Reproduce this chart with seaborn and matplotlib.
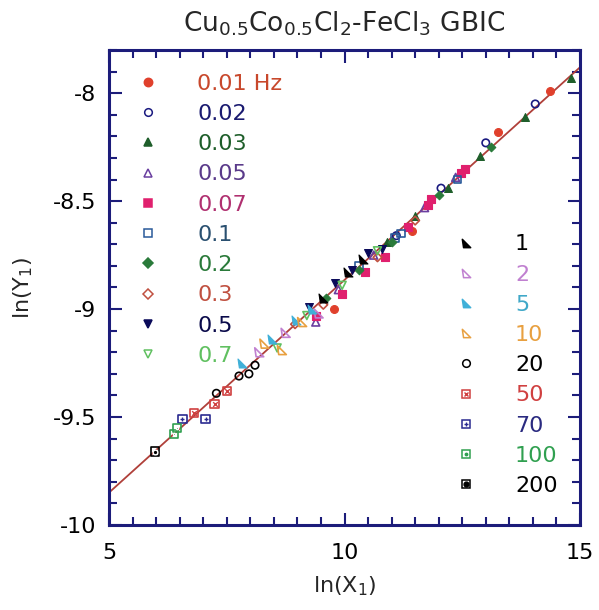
import numpy as np
import pandas as pd
import matplotlib
matplotlib.use("Agg")
import matplotlib.pyplot as plt
from matplotlib.path import Path
from matplotlib.lines import Line2D
from matplotlib.ticker import MultipleLocator, FuncFormatter
import seaborn as sns

# ---------------- data ----------------
left_labels = ['0.01 Hz', '0.02', '0.03', '0.05', '0.07', '0.1', '0.2', '0.3', '0.5', '0.7']
right_labels = ['1', '2', '5', '10', '20', '50', '70', '100', '200']

x_0_01 = [14.37, 13.25, 11.43, 9.77]
y_0_01 = [-7.99, -8.18, -8.64, -9.00]
x_0_02 = [14.05, 13.00, 12.05, 11.10]
y_0_02 = [-8.05, -8.23, -8.44, -8.66]
x_0_03 = [14.80, 13.84, 12.87, 12.20, 11.50, 10.90]
y_0_03 = [-7.93, -8.11, -8.29, -8.44, -8.57, -8.69]
x_0_05 = [12.36, 11.70, 10.62, 9.87, 9.39]
y_0_05 = [-8.39, -8.53, -8.75, -8.91, -9.06]
x_0_07 = [12.55, 12.48, 11.84, 11.78, 11.35, 10.87, 10.44, 9.95, 9.40]
y_0_07 = [-8.35, -8.37, -8.49, -8.52, -8.62, -8.76, -8.83, -8.93, -9.03]
x_0_1 = [12.40, 11.07, 11.20, 10.30]
y_0_1 = [-8.40, -8.67, -8.65, -8.80]
x_0_2 = [13.10, 12.00, 11.00, 10.30, 9.60]
y_0_2 = [-8.25, -8.47, -8.69, -8.82, -8.95]
x_0_3 = [11.50, 10.70, 9.55, 8.95]
y_0_3 = [-8.59, -8.76, -8.98, -9.07]
x_0_5 = [10.80, 10.50, 10.15, 9.80, 9.24]
y_0_5 = [-8.72, -8.74, -8.82, -8.88, -8.99]
x_0_7 = [10.70, 9.95, 9.20, 8.57]
y_0_7 = [-8.73, -8.89, -9.03, -9.18]

x_1 = [10.40, 10.08, 9.55]
y_1 = [-8.77, -8.83, -8.95]
x_2 = [9.45, 8.75, 8.19]
y_2 = [-9.02, -9.11, -9.20]
x_5 = [9.30, 8.97, 8.46, 7.83]
y_5 = [-9.00, -9.05, -9.14, -9.25]
x_10 = [9.10, 8.67, 8.30]
y_10 = [-9.06, -9.19, -9.16]
x_20 = [8.10, 7.97, 7.76, 7.28]
y_20 = [-9.26, -9.30, -9.31, -9.39]
x_50 = [7.50, 7.24, 6.81]
y_50 = [-9.38, -9.44, -9.48]
x_70 = [7.05, 6.56]
y_70 = [-9.51, -9.51]
x_100 = [6.45, 6.38]
y_100 = [-9.55, -9.58]
x_200 = [5.97]
y_200 = [-9.66]

fit_x = [5.0, 15.0]
fit_y = [-9.85, -7.88]

xs = [x_0_01, x_0_02, x_0_03, x_0_05, x_0_07, x_0_1, x_0_2, x_0_3, x_0_5, x_0_7,
      x_1, x_2, x_5, x_10, x_20, x_50, x_70, x_100, x_200]
ys = [y_0_01, y_0_02, y_0_03, y_0_05, y_0_07, y_0_1, y_0_2, y_0_3, y_0_5, y_0_7,
      y_1, y_2, y_5, y_10, y_20, y_50, y_70, y_100, y_200]
labels = left_labels + right_labels

# ---------------- styles ----------------
rtri = Path([(-1, 1), (1, -1), (-0.7, -1), (-1, 1)], closed=True)
# (marker, filled, color, inner marker, size factor, legend marker size)
styles = {
    '0.01 Hz': ('o', True, '#e0402c', None, 1.0, 6),
    '0.02': ('o', False, '#1a1a80', None, 0.9, 5.5),
    '0.03': ('^', True, '#1e5e2a', None, 1.0, 6),
    '0.05': ('^', False, '#6a3fa0', None, 1.0, 6),
    '0.07': ('s', True, '#e0206e', None, 1.0, 6),
    '0.1': ('s', False, '#2a5a9a', None, 1.0, 6),
    '0.2': ('D', True, '#2a7a3a', None, 0.6, 4.7),
    '0.3': ('D', False, '#c05040', None, 0.6, 4.7),
    '0.5': ('v', True, '#0a0a5a', None, 1.0, 6),
    '0.7': ('v', False, '#60c060', None, 1.0, 6),
    '1': (rtri, True, '#000000', None, 1.3, 6),
    '2': (rtri, False, '#c080d0', None, 1.3, 6),
    '5': (rtri, True, '#40b0d8', None, 1.3, 6),
    '10': (rtri, False, '#e8a040', None, 1.3, 6),
    '20': ('o', False, '#000000', None, 0.9, 5.5),
    '50': ('s', False, '#d04040', 'x', 1.1, 6),
    '70': ('s', False, '#2a2a90', '+', 1.1, 6),
    '100': ('s', False, '#30a050', '.', 1.1, 6),
    '200': ('s', False, '#000000', 'o', 1.1, 6),
}
text_colors = {
    '0.01 Hz': '#c8482c', '0.02': '#1a1a70', '0.03': '#1e5e2a', '0.05': '#5a3a8a',
    '0.07': '#b03070', '0.1': '#2a5070', '0.2': '#2a7a3a', '0.3': '#c05040',
    '0.5': '#0a0a4a', '0.7': '#60c060',
    '1': '#000000', '2': '#c080d0', '5': '#40a8c8', '10': '#e8a040', '20': '#000000',
    '50': '#d04040', '70': '#2a2a80', '100': '#30a050', '200': '#000000',
}

rows = []
for lab, xv, yv in zip(labels, xs, ys):
    for a, b in zip(xv, yv):
        rows.append({'series': lab, 'x': a, 'y': b})
df = pd.DataFrame(rows)

sns.set_theme(style='white')
plt.rcParams['font.family'] = ['DejaVu Sans']
plt.rcParams['mathtext.fontset'] = 'dejavusans'

navy = '#1c1c7a'
fig = plt.figure(figsize=(5.99, 6.10), dpi=100)
ax = fig.add_axes([109 / 599, 1 - 525 / 610, 471 / 599, 475 / 610])

sns.lineplot(x=fit_x, y=fit_y, ax=ax, color='#b0403a', linewidth=1.3, zorder=1)

ms = 32
for lab in labels:
    sub = df[df['series'] == lab]
    mk, filled, col, inner, sf, lms = styles[lab]
    if filled:
        sns.scatterplot(data=sub, x='x', y='y', ax=ax, marker=mk, s=ms * sf,
                        color=col, edgecolor=col, linewidth=0.8, zorder=3)
    else:
        sns.scatterplot(data=sub, x='x', y='y', ax=ax, marker=mk, s=ms * sf,
                        facecolors='none', edgecolor=col, linewidth=1.2, zorder=3)
    if inner is not None:
        sns.scatterplot(data=sub, x='x', y='y', ax=ax, marker=inner, s=ms * 0.35,
                        color=col, linewidth=1.0, zorder=4)

ax.set_xlim(5, 15)
ax.set_ylim(-10, -7.8)
ax.xaxis.set_major_locator(MultipleLocator(5))
ax.xaxis.set_minor_locator(MultipleLocator(0.5))
ax.yaxis.set_major_locator(MultipleLocator(0.5))
ax.yaxis.set_minor_locator(MultipleLocator(0.1))
ax.yaxis.set_major_formatter(FuncFormatter(lambda v, p: f'{v:g}'))

ax.tick_params(which='both', direction='in', top=True, right=True, bottom=True, left=True,
               color=navy, width=1.5, labelsize=16, labelcolor='black')
ax.tick_params(which='major', length=9)
ax.tick_params(which='minor', length=5.5)
ax.tick_params(axis='x', which='major', pad=13)
ax.tick_params(axis='y', which='major', pad=9)
for sp in ax.spines.values():
    sp.set_visible(True)
    sp.set_color(navy)
    sp.set_linewidth(2.2)

ax.set_xlabel(r'ln(X$_1$)', fontsize=16, labelpad=8)
ax.set_ylabel(r'ln(Y$_1$)', fontsize=16, labelpad=13)
ax.set_title(r'Cu$_{0.5}$Co$_{0.5}$Cl$_2$-FeCl$_3$ GBIC', fontsize=19, pad=13)


def handle(lab):
    mk, filled, col, inner, sf, lms = styles[lab]
    h = Line2D([], [], linestyle='none', marker=mk, markersize=lms,
               markerfacecolor=col if filled else 'none', markeredgecolor=col,
               markeredgewidth=1.1)
    if inner is None:
        return h
    h2 = Line2D([], [], linestyle='none', marker=inner, markersize=3.5,
                color=col, markeredgewidth=1.0)
    return (h, h2)


leg_kw = dict(frameon=False, fontsize=16, handlelength=2.0, handletextpad=1.2,
              labelspacing=0.46, borderpad=0, borderaxespad=0, loc='upper left')
leg1 = ax.legend([handle(l) for l in left_labels], left_labels,
                 bbox_to_anchor=(0.036, 0.95),
                 labelcolor=[text_colors[l] for l in left_labels], **leg_kw)
ax.add_artist(leg1)
leg2 = ax.legend([handle(l) for l in right_labels], right_labels,
                 bbox_to_anchor=(0.711, 0.612),
                 labelcolor=[text_colors[l] for l in right_labels], **leg_kw)

fig.savefig('out.png', dpi=100)
